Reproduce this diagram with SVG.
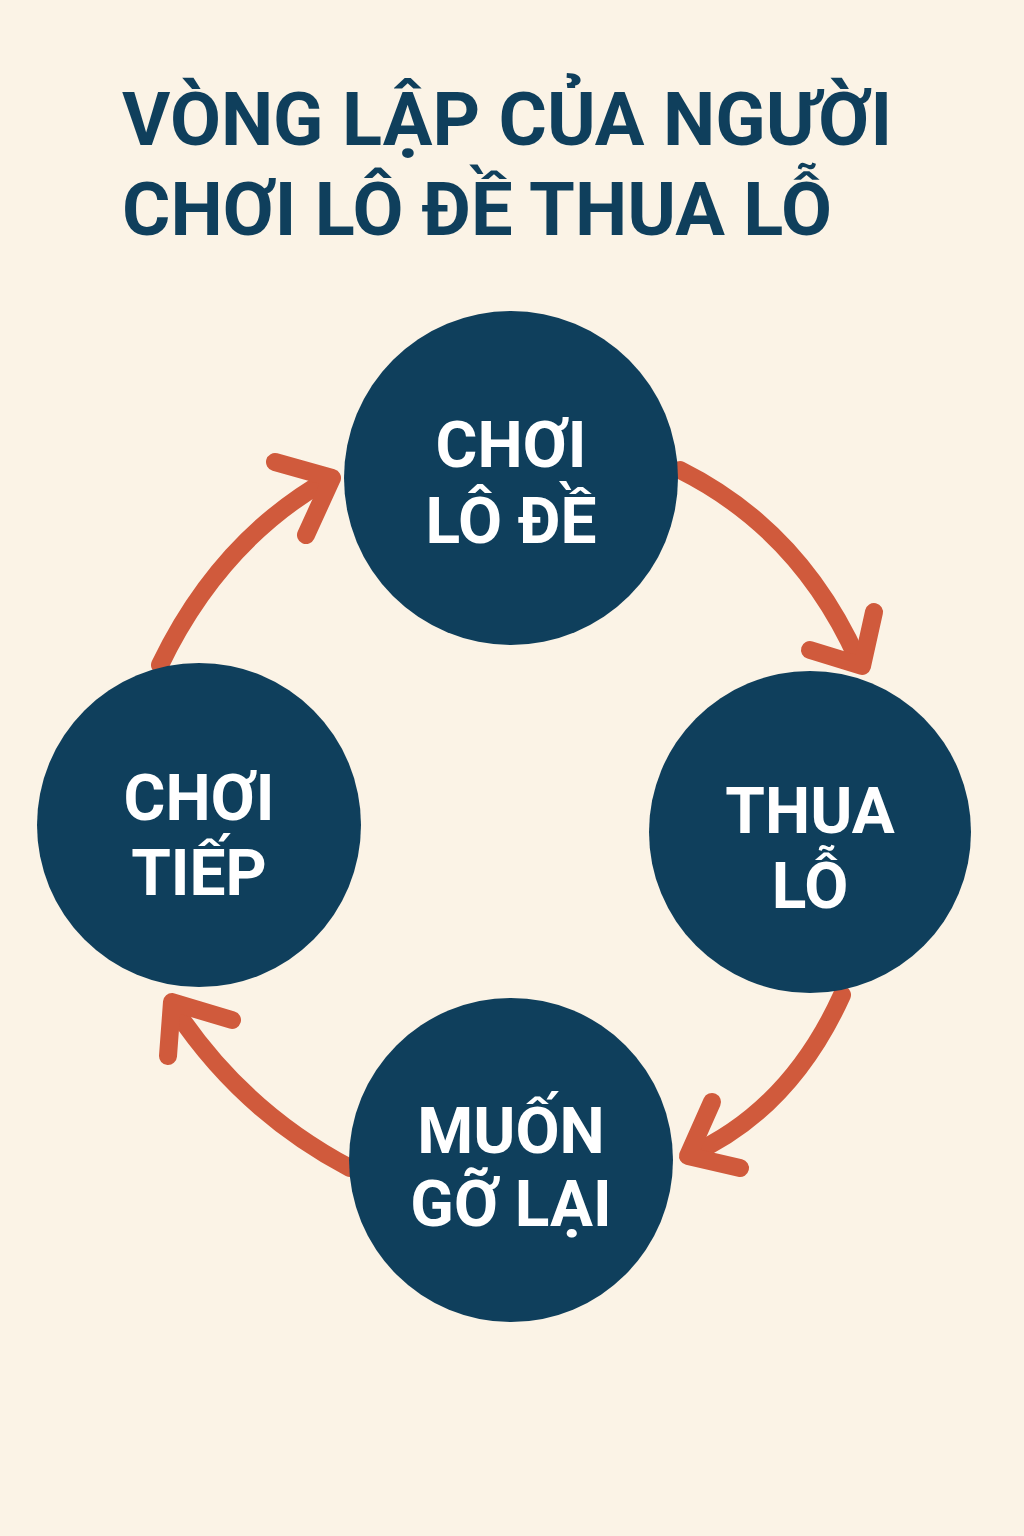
<svg xmlns="http://www.w3.org/2000/svg" width="1024" height="1536" viewBox="0 0 1024 1536">
<style>
.t{font-family:Roboto,"Liberation Sans",sans-serif;font-weight:bold;fill:#0f3f5c;font-size:74px}
.n{fill:#0f3f5c}
.l{font-family:Roboto,"Liberation Sans",sans-serif;font-weight:bold;fill:#fff;font-size:64px;text-anchor:middle}
.a{fill:none;stroke:#d05a3c;stroke-width:18;stroke-linecap:round;stroke-linejoin:round}
</style>
<rect width="1024" height="1536" fill="#fbf3e6"/>
<g id="title">
<text class="t" x="122" y="145">VÒNG LẬP CỦA NGƯỜI</text>
<text class="t" x="122" y="235">CHƠI LÔ ĐỀ THUA LỖ</text>
</g>
<g id="connectors">
<path class="a" d="M680,470 Q800,530 858,660"/>
<polyline class="a" points="810,650 862,666 874,612"/>
<path class="a" d="M842,995 Q790,1110 690,1155"/>
<polyline class="a" points="740,1168 688,1156 712,1102"/>
<path class="a" d="M350,1168 Q240,1110 172,1005"/>
<polyline class="a" points="168,1056 172,1002 232,1020"/>
<path class="a" d="M160,665 Q220,540 330,478"/>
<polyline class="a" points="275,462 332,478 306,535"/>
</g>
<g id="node1"><circle class="n" cx="511" cy="478" r="167"/><text class="l" x="511" y="467">CHƠI</text><text class="l" x="511" y="543">LÔ ĐỀ</text></g>
<g id="node2"><circle class="n" cx="810" cy="832" r="161"/><text class="l" x="810" y="833">THUA</text><text class="l" x="810" y="908">LỖ</text></g>
<g id="node3"><circle class="n" cx="511" cy="1160" r="162"/><text class="l" x="511" y="1153">MUỐN</text><text class="l" x="511" y="1226">GỠ LẠI</text></g>
<g id="node4"><circle class="n" cx="199" cy="825" r="162"/><text class="l" x="199" y="820">CHƠI</text><text class="l" x="199" y="895">TIẾP</text></g>
</svg>
